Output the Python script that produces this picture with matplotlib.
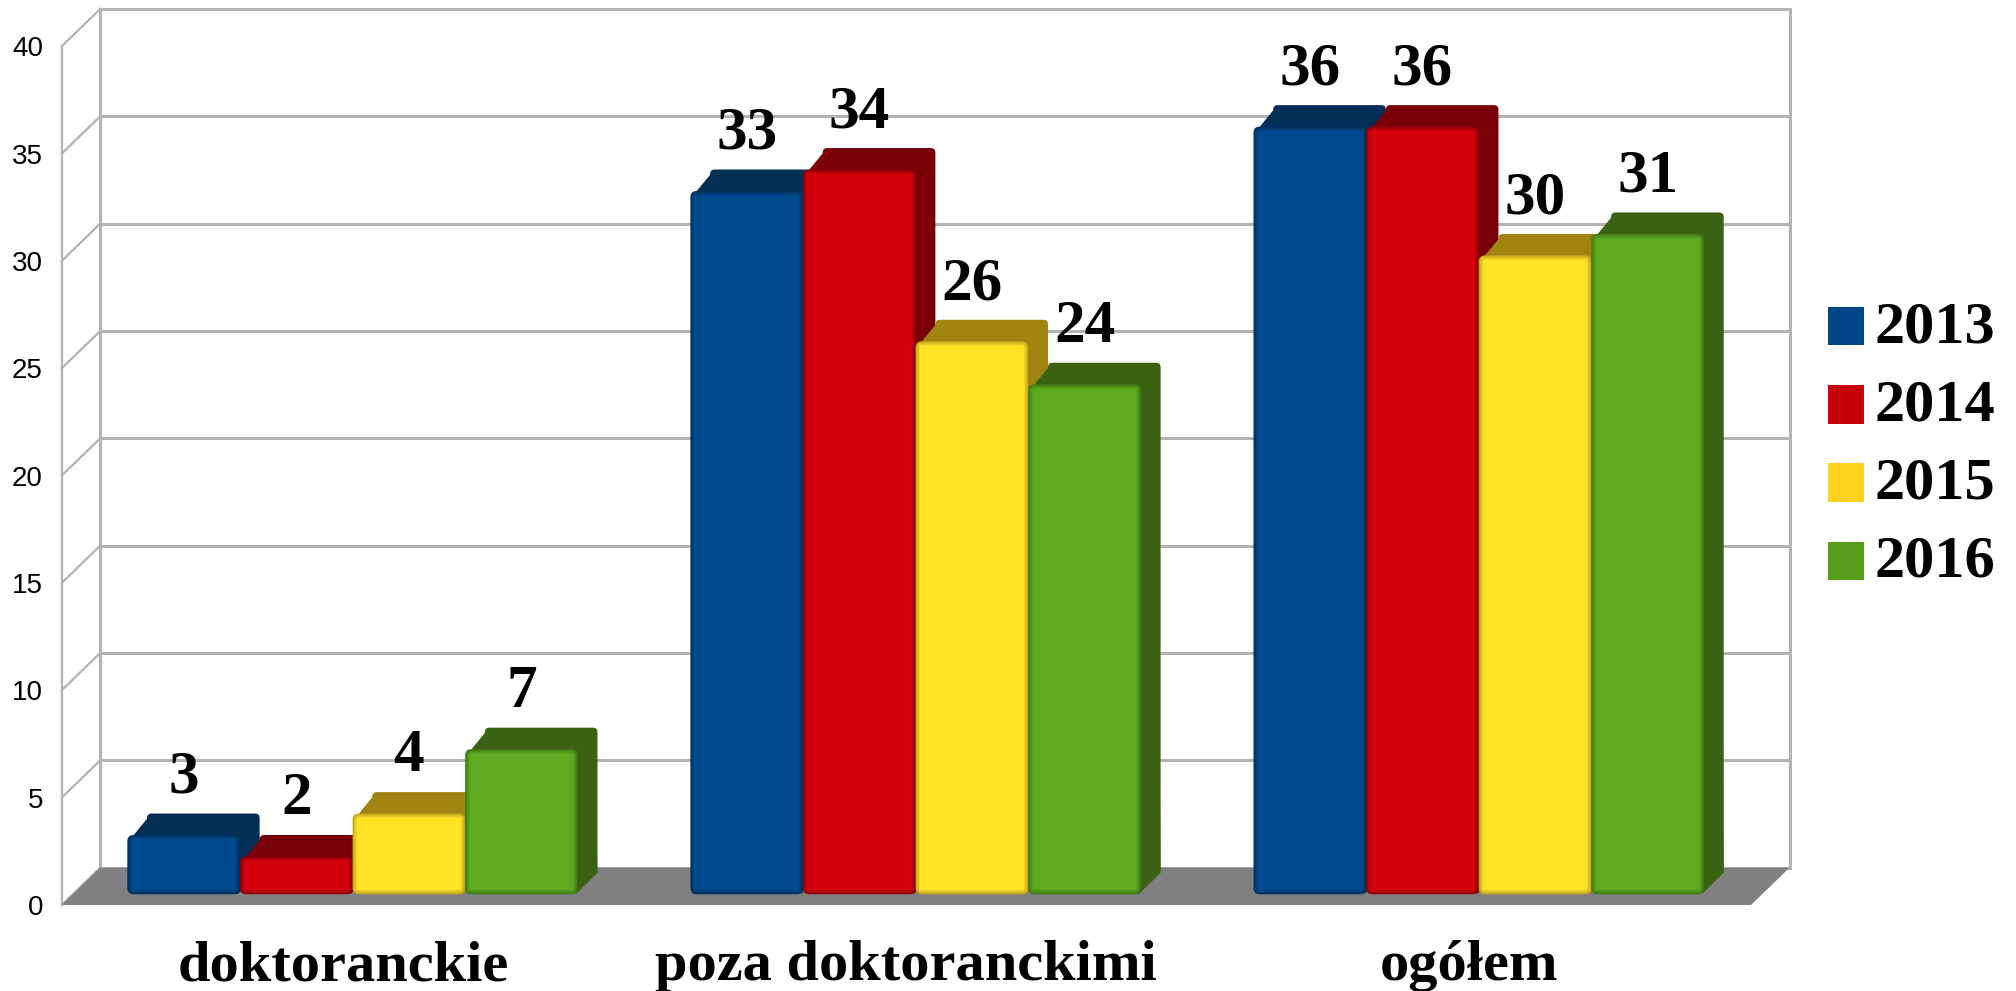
import matplotlib
matplotlib.use("Agg")
import matplotlib.pyplot as plt
from matplotlib.patches import FancyBboxPatch, Polygon

categories = ["doktoranckie", "poza doktoranckimi", "ogółem"]
years = ["2013", "2014", "2015", "2016"]
values_2013 = [3, 33, 36]
values_2014 = [2, 34, 36]
values_2015 = [4, 26, 30]
values_2016 = [7, 24, 31]
series = [values_2013, values_2014, values_2015, values_2016]
y_ticks = [0, 5, 10, 15, 20, 25, 30, 35, 40]

legend_colors = ["#004586", "#c5000b", "#ffd320", "#579d1c"]
front_colors = ["#004b8f", "#d4000c", "#ffe327", "#5fab1f"]
edge_colors = ["#00315e", "#8e0008", "#c2a81c", "#3f7a16"]
top_colors = ["#022d55", "#7a0007", "#a08412", "#3a6212"]
grid_color = "#b3b3b3"

W, H = 2016, 991
fig = plt.figure(figsize=(W / 100, H / 100), dpi=100)
left, right, top, bottom = 61.7, 1751, 46.3, 905
ax = fig.add_axes([left / W, 1 - bottom / H, (right - left) / W, (bottom - top) / H])
ax.set_xlim(-0.5, 2.5)
ax.set_ylim(0, 40)
for s in ax.spines.values():
    s.set_visible(False)

# 3d offsets, in data units
wall_dx, wall_dy = 0.0684, 1.74
bar_w = 0.2
bar_dx, bar_dy = 0.035, 1.0
lift = 0.26   # bars stand a little behind the front edge of the floor
base = 0.5
# pixels per data unit, for the rounded corners
aspect = ((bottom - top) / 40) / ((right - left) / 3)

# walls and floor
x0, x1 = -0.5, 2.5
ax.add_patch(Polygon([(x0, 0), (x0 + wall_dx, wall_dy), (x1 + wall_dx, wall_dy), (x1, 0)],
                     closed=True, fc="#808080", ec="none", zorder=1, clip_on=False))
for t in y_ticks:
    ax.plot([x0 + wall_dx, x1 + wall_dx], [t + wall_dy, t + wall_dy], color=grid_color, lw=2.2, zorder=0.5, clip_on=False)
    ax.plot([x0, x0 + wall_dx], [t, t + wall_dy], color=grid_color, lw=1.6, zorder=0.5, clip_on=False)
ax.plot([x0, x0], [0, 40], color=grid_color, lw=1.6, zorder=0.5, clip_on=False)
ax.plot([x0 + wall_dx] * 2, [wall_dy, 40 + wall_dy], color=grid_color, lw=2.2, zorder=0.5, clip_on=False)
ax.plot([x1 + wall_dx] * 2, [wall_dy, 40 + wall_dy], color=grid_color, lw=2.2, zorder=0.5, clip_on=False)


def rounded(x, y0, w, y1, r, color, z):
    p = FancyBboxPatch((x + r, y0 + r / aspect), w - 2 * r, y1 - y0 - 2 * r / aspect,
                       boxstyle="round,pad=%f,rounding_size=%f" % (r, r),
                       mutation_aspect=1 / aspect, fc=color, ec="none", zorder=z, clip_on=False)
    ax.add_patch(p)


def mix(c1, c2, t):
    a = matplotlib.colors.to_rgb(c1)
    b = matplotlib.colors.to_rgb(c2)
    return tuple(a[i] * (1 - t) + b[i] * t for i in range(3))


z = 2
for s, vals in enumerate(series):
    for g, v in enumerate(vals):
        x = g + 0.0165 - 2 * bar_w + s * bar_w
        y_top = v + lift
        # side and top faces
        rounded(x + bar_dx, base + bar_dy, bar_w, y_top + bar_dy, 0.008, top_colors[s], z)
        ax.add_patch(Polygon([(x + 0.002, y_top - 0.3), (x + bar_dx + 0.006, y_top + bar_dy - 0.05),
                              (x + bar_w + bar_dx - 0.006, y_top + bar_dy - 0.05),
                              (x + bar_w + bar_dx, base + bar_dy),
                              (x + bar_w - 0.004, base)],
                             closed=True, fc=top_colors[s], ec="none", zorder=z, clip_on=False))
        # front face, soft dark rim done with a few insets
        steps = 6
        for i in range(steps):
            inset = i * 0.0016
            rounded(x + inset, base + inset / aspect, bar_w - 2 * inset, y_top - inset / aspect,
                    max(0.011 - inset, 0.002), mix(edge_colors[s], front_colors[s], i / (steps - 1)), z + 0.01 * i)
        ax.annotate(str(v), (x + bar_w / 2, y_top + bar_dy), xytext=(0, 5.5), textcoords="offset points",
                    ha="center", va="bottom", family="Liberation Serif", weight="bold", fontsize=44,
                    zorder=20, annotation_clip=False)
        z += 1

ax.set_yticks(y_ticks)
ax.set_yticklabels([str(t) for t in y_ticks], family="Liberation Sans", fontsize=20)
ax.tick_params(axis="y", length=0, pad=13.5)
ax.set_xticks([0, 1, 2])
ax.set_xticklabels(categories, family="Liberation Serif", weight="bold", fontsize=42)
ax.tick_params(axis="x", length=0, pad=25.5)

handles = [plt.Rectangle((0, 0), 1, 1, fc=c, ec="none") for c in legend_colors]
leg = ax.legend(handles, years, loc="center left", bbox_to_anchor=(1.0457, 0.529), frameon=False,
                prop={"family": "Liberation Serif", "weight": "bold", "size": 43.5},
                labelspacing=0.4, handlelength=0.6, handleheight=0.6, handletextpad=0.16,
                borderaxespad=0, borderpad=0)
# text sits a bit higher next to the squares
for t in leg.get_texts():
    t.set_y(5)

fig.savefig("out.png", dpi=100, facecolor="white")
